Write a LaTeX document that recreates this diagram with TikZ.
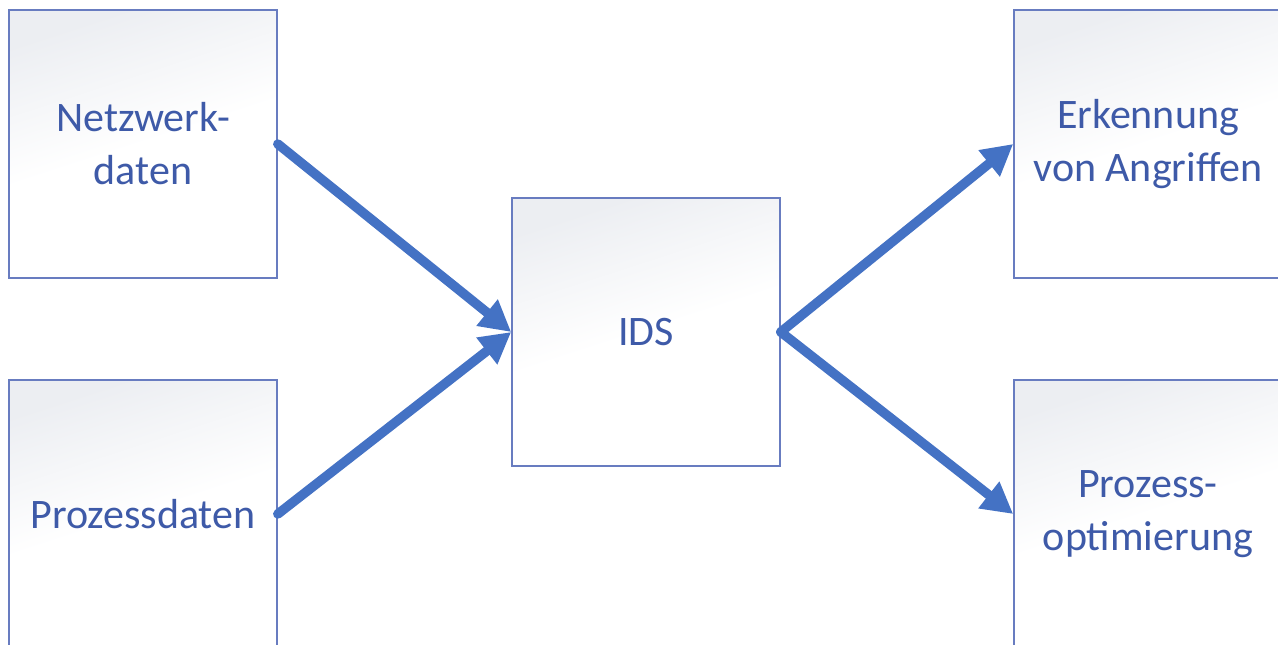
\documentclass[tikz,border=0pt]{standalone}
\usepackage{fontspec}
\setmainfont{Carlito}
\usetikzlibrary{arrows.meta}

\definecolor{boxline}{RGB}{104,124,192}
\definecolor{boxtop}{RGB}{236,238,242}
\definecolor{txtblue}{RGB}{62,90,168}
\definecolor{arrowblue}{RGB}{68,114,196}

\tikzset{
  box/.style={draw=boxline, line width=1.6pt, rectangle,
    minimum width=268pt, minimum height=268pt, inner sep=0pt,
    top color=boxtop, bottom color=white, middle color=white, shading angle=18,
    text=txtblue, align=center, font=\fontsize{42}{53}\selectfont},
  flow/.style={draw=arrowblue, line width=9.5pt, line cap=round,
    -{Triangle[length=31pt,width=32pt]}},
}

\begin{document}
\begin{tikzpicture}[x=1pt,y=-1pt]
  \useasboundingbox (0,0) rectangle (1278,645);
  \clip (0,0) rectangle (1278,645);

  % input boxes
  \node[box] (net)  at (143,144) {Netzwerk-\\daten};
  \node[box] (proc) at (143,514) {Prozessdaten};

  % central system
  \node[box] (ids)  at (646,332) {IDS};

  % output boxes (extend past the right edge)
  \node[box] (det)  at (1148,144) {Erkennung\\von Angriffen};
  \node[box] (opt)  at (1148,514) {Prozess-\\optimierung};

  % data flow
  \draw[flow] (net.east)  -- (ids.west);
  \draw[flow] (proc.east) -- (ids.west);
  \draw[flow] (ids.east)  -- (det.west);
  \draw[flow] (ids.east)  -- (opt.west);
\end{tikzpicture}
\end{document}
